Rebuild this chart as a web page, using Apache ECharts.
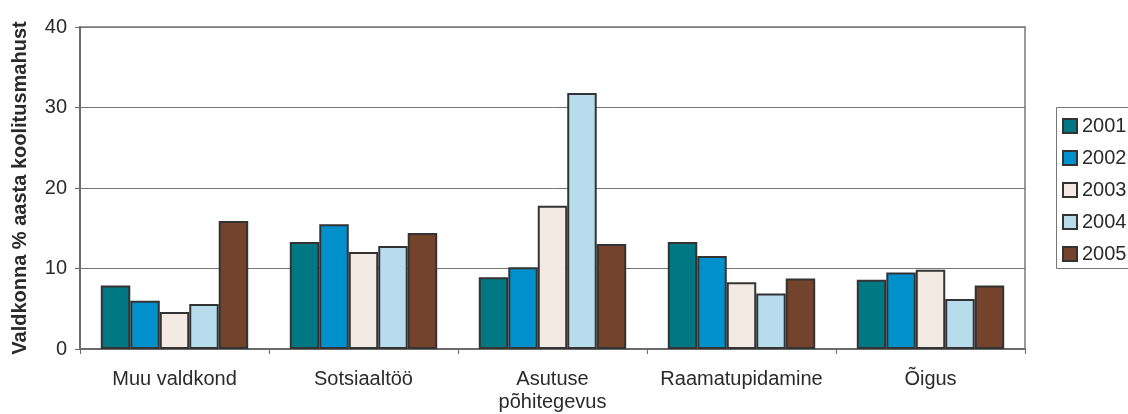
<!DOCTYPE html>
<html>
<head>
<meta charset="utf-8">
<script src="https://cdn.jsdelivr.net/npm/echarts@6/dist/echarts.min.js"></script>
<style>
  html, body { margin: 0; padding: 0; background: #fff; }
  #chart { width: 1128px; height: 414px; }
</style>
</head>
<body>
<div id="chart"></div>
<script>
// Training fields (categories) and yearly shares, % of the year's training volume
const categories = ['Muu valdkond', 'Sotsiaaltöö', 'Asutuse\npõhitegevus', 'Raamatupidamine', 'Õigus'];
const years = ['2001', '2002', '2003', '2004', '2005'];
const v2001 = [7.9, 13.3, 8.9, 13.3, 8.6];
const v2002 = [6.0, 15.5, 10.15, 11.55, 9.5];
const v2003 = [4.6, 12.05, 17.8, 8.3, 9.85];
const v2004 = [5.6, 12.8, 31.8, 6.9, 6.2];
const v2005 = [15.9, 14.4, 13.05, 8.75, 7.9];
const yTicks = [0, 10, 20, 30, 40];

const values = [v2001, v2002, v2003, v2004, v2005];
const colors = ['#007884', '#0091cc', '#f3eae3', '#b7dcec', '#73432b'];
const font = 'Liberation Sans, Arial, sans-serif';
const textColor = '#2a2a2a';

const chart = echarts.init(document.getElementById('chart'), null, { renderer: 'canvas' });

chart.setOption({
  animation: false,
  textStyle: { fontFamily: font },
  grid: {
    left: 80, right: 103, top: 27, bottom: 65,
    containLabel: false,
    outerBoundsMode: 'none',
    show: true, borderColor: '#9a9a9a', borderWidth: 2, backgroundColor: 'transparent'
  },
  // legend frame, running past the right edge of the canvas
  graphic: [{
    type: 'rect',
    shape: { x: 1056.5, y: 107.5, width: 100, height: 161 },
    style: { fill: 'none', stroke: '#777', lineWidth: 1 },
    silent: true
  }],
  legend: {
    orient: 'vertical',
    left: 1056, top: 107,
    data: years,
    icon: 'rect',
    itemWidth: 14, itemHeight: 14,
    itemGap: 12,
    padding: [9, 6, 6, 6],
    textStyle: { fontFamily: font, fontSize: 20, color: textColor }
  },
  xAxis: {
    type: 'category',
    data: categories,
    axisLine: { lineStyle: { color: '#6b6b6b', width: 2 } },
    axisTick: { show: true, interval: 0, length: 5, lineStyle: { color: '#6b6b6b' } },
    axisLabel: {
      interval: 0, hideOverlap: false,
      fontFamily: font, fontSize: 20, color: textColor, margin: 19, lineHeight: 23
    }
  },
  yAxis: {
    type: 'value',
    min: yTicks[0], max: yTicks[yTicks.length - 1], interval: 10,
    name: 'Valdkonna % aasta koolitusmahust',
    nameLocation: 'middle',
    nameGap: 50,
    nameTextStyle: { fontFamily: font, fontSize: 20, fontWeight: 'bold', color: textColor },
    axisLine: { show: true, lineStyle: { color: '#6b6b6b', width: 2 } },
    axisTick: { show: true, length: 5, lineStyle: { color: '#6b6b6b' } },
    axisLabel: { fontFamily: font, fontSize: 20, color: textColor, margin: 13 },
    splitLine: { lineStyle: { color: '#777', width: 1 } }
  },
  series: years.map((y, i) => ({
    name: y,
    type: 'bar',
    data: values[i],
    barGap: '0%',
    barCategoryGap: '22%',
    itemStyle: { color: colors[i], borderColor: '#333', borderWidth: 2 }
  }))
});
</script>
</body>
</html>
